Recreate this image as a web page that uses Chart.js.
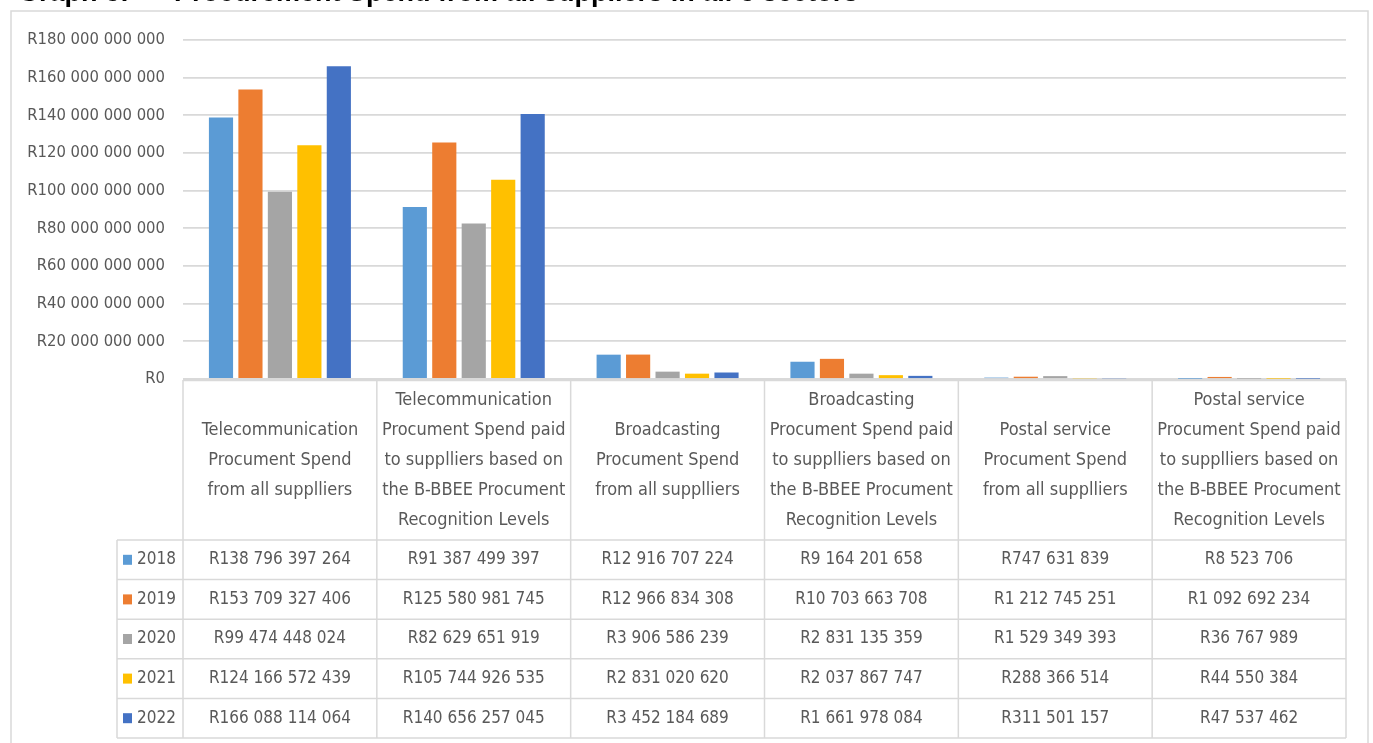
<!DOCTYPE html>
<html>
<head>
<meta charset="utf-8">
<script src="https://cdn.jsdelivr.net/npm/chart.js@4"></script>
<style>
  body { margin: 0; background: #fff; overflow: hidden; }
  #wrap { position: relative; width: 1373px; height: 743px; }
  #title {
    position: absolute; left: 18px; top: -23px; white-space: pre;
    font: bold 27px "Liberation Sans", Arial, sans-serif; color: #000;
  }
</style>
</head>
<body>
<div id="wrap">
  <canvas id="chart"></canvas>
  <div id="title">Graph 3:      Procurement Spend from all suppliers in all 3 sectors</div>
</div>
<script>
const categories = [
  ['Telecommunication', 'Procument Spend', 'from all supplliers'],
  ['Telecommunication', 'Procument Spend paid', 'to supplliers based on', 'the B-BBEE Procument', 'Recognition Levels'],
  ['Broadcasting', 'Procument Spend', 'from all supplliers'],
  ['Broadcasting', 'Procument Spend paid', 'to supplliers based on', 'the B-BBEE Procument', 'Recognition Levels'],
  ['Postal service', 'Procument Spend', 'from all supplliers'],
  ['Postal service', 'Procument Spend paid', 'to supplliers based on', 'the B-BBEE Procument', 'Recognition Levels']
];
const years = ['2018', '2019', '2020', '2021', '2022'];
const colors = ['#5B9BD5', '#ED7D31', '#A5A5A5', '#FFC000', '#4472C4'];

const spend2018 = [138796397264, 91387499397, 12916707224, 9164201658, 747631839, 8523706];
const spend2019 = [153709327406, 125580981745, 12966834308, 10703663708, 1212745251, 1092692234];
const spend2020 = [99474448024, 82629651919, 3906586239, 2831135359, 1529349393, 36767989];
const spend2021 = [124166572439, 105744926535, 2831020620, 2037867747, 288366514, 44550384];
const spend2022 = [166088114064, 140656257045, 3452184689, 1661978084, 311501157, 47537462];
const series = [spend2018, spend2019, spend2020, spend2021, spend2022];

const FONT = '"Liberation Sans Narrow", "DejaVu Sans Condensed", sans-serif';
const TEXT = '#595959';
const LINE = '#d9d9d9';

function rand(v) {
  // R prefix, spaces as thousand separators
  return 'R' + String(Math.round(v)).replace(/\B(?=(\d{3})+(?!\d))/g, ' ');
}

const tablePlugin = {
  id: 'dataTable',
  beforeDraw(chart) {
    const ctx = chart.ctx;
    ctx.save();
    ctx.strokeStyle = LINE;
    ctx.lineWidth = 1.5;
    ctx.strokeRect(11, 11, 1357, 800);
    ctx.restore();
  },
  afterDraw(chart) {
    const {ctx, chartArea, scales: {x}} = chart;
    const colW = (chartArea.right - chartArea.left) / categories.length;
    const headTop = chartArea.bottom + 1;
    const headBottom = 540;
    const rowH = 39.6;
    const keyLeft = 117;
    const tableBottom = headBottom + rowH * years.length;

    ctx.save();
    ctx.strokeStyle = LINE;
    // axis / table top line, thick enough to swallow the tiniest bars
    ctx.lineWidth = 2.5;
    ctx.beginPath();
    ctx.moveTo(chartArea.left, headTop);
    ctx.lineTo(chartArea.right, headTop);
    ctx.stroke();

    ctx.lineWidth = 1.5;
    ctx.beginPath();
    for (let r = 0; r <= years.length; r++) {
      const yy = headBottom + r * rowH;
      ctx.moveTo(keyLeft, yy);
      ctx.lineTo(chartArea.right, yy);
    }
    for (let c = 0; c <= categories.length; c++) {
      const xx = chartArea.left + c * colW;
      ctx.moveTo(xx, headTop);
      ctx.lineTo(xx, tableBottom);
    }
    ctx.moveTo(keyLeft, headBottom);
    ctx.lineTo(keyLeft, tableBottom);
    ctx.stroke();

    ctx.fillStyle = TEXT;
    ctx.textAlign = 'center';
    ctx.textBaseline = 'middle';
    ctx.font = '18px ' + FONT;
    const midHead = (headTop + headBottom) / 2;
    categories.forEach((lines, i) => {
      const cx = x.getPixelForValue(i);
      const y0 = midHead - (lines.length - 1) * 30 / 2;
      lines.forEach((ln, k) => ctx.fillText(ln, cx, y0 + k * 30));
    });

    ctx.font = '17px ' + FONT;
    years.forEach((yr, r) => {
      const cy = headBottom + r * rowH + rowH / 2;
      ctx.fillStyle = colors[r];
      ctx.fillRect(123, cy - 5, 9, 10);
      ctx.fillStyle = TEXT;
      ctx.textAlign = 'left';
      ctx.fillText(yr, 137, cy);
      ctx.textAlign = 'center';
      series[r].forEach((v, i) => ctx.fillText(rand(v), x.getPixelForValue(i), cy));
    });
    ctx.restore();
  }
};

new Chart(document.getElementById('chart'), {
  type: 'bar',
  data: {
    labels: categories.map(c => c.join(' ')),
    datasets: years.map((yr, i) => ({
      label: yr,
      data: series[i],
      backgroundColor: colors[i],
      borderWidth: 0,
      categoryPercentage: 0.76,
      barPercentage: 0.82
    }))
  },
  options: {
    responsive: true,
    maintainAspectRatio: false,
    animation: false,
    layout: { padding: { left: 0, top: 40, right: 27, bottom: 364 } },
    scales: {
      x: { display: false },
      y: {
        min: 0,
        max: 180000000000,
        afterFit: axis => { axis.width = 183; },
        ticks: {
          stepSize: 20000000000,
          padding: 18,
          color: TEXT,
          font: { family: FONT, size: 16.5 },
          callback: v => rand(v)
        },
        border: { display: false },
        grid: { color: LINE, lineWidth: 1.8, drawTicks: false }
      }
    },
    plugins: {
      legend: { display: false },
      tooltip: { enabled: false }
    }
  },
  plugins: [tablePlugin]
});
</script>
</body>
</html>
